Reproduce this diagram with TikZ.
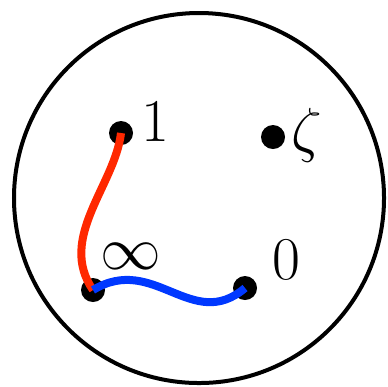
\documentclass[tikz,border=0pt]{standalone}
\definecolor{pathred}{RGB}{255,40,0}
\definecolor{pathblue}{RGB}{0,56,255}
\tikzset{
  pt/.style={circle, fill=black, inner sep=0pt, minimum size=0.24cm},
  lbl/.style={font=\fontsize{17.5}{20}\selectfont},
}
\begin{document}
\begin{tikzpicture}[x=1cm,y=1cm]
\useasboundingbox (-1.99,-1.88) rectangle (1.89,1.98);
\draw[line width=0.04cm] (0,0) circle (1.85);
\node[pt] (one) at (-0.78,0.65) {};
\node[pt] (zeta) at (0.74,0.61) {};
\node[pt] (inf) at (-1.06,-0.92) {};
\node[pt] (zero) at (0.46,-0.90) {};
\node[lbl] (lone) at (-0.44,0.76) {$1$};
\node[lbl] (lzeta) at (1.08,0.63) {$\zeta$};
\node[lbl] (linf) at (-0.68,-0.58) {$\infty$};
\node[lbl] (lzero) at (0.87,-0.62) {$0$};
\draw[pathred, line width=0.08cm] (one.center) .. controls (-0.84,0.13) and (-1.42,-0.40) .. (inf.center);
\draw[pathblue, line width=0.08cm] (inf.center) .. controls (-0.45,-0.55) and (-0.07,-1.35) .. (zero.center);
\end{tikzpicture}
\end{document}
